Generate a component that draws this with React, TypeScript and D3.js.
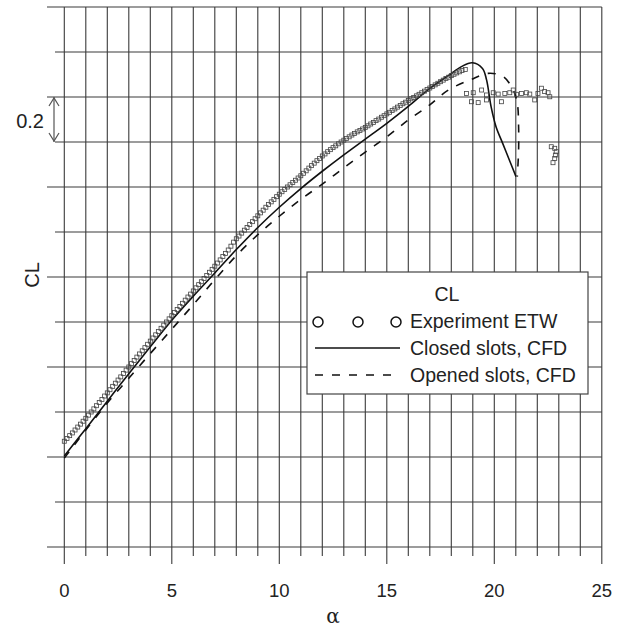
import React from 'react';
import * as d3 from 'd3';

// axis ticks
const alphaTicks = [0, 5, 10, 15, 20, 25];

// Experiment ETW (alpha, CL)
const expAlpha = [
  0, 0.125, 0.25, 0.375, 0.5, 0.625, 0.75, 0.875,
  1, 1.125, 1.25, 1.375, 1.5, 1.625, 1.75, 1.875,
  2, 2.125, 2.25, 2.375, 2.5, 2.625, 2.75, 2.875,
  3, 3.125, 3.25, 3.375, 3.5, 3.625, 3.75, 3.875,
  4, 4.125, 4.25, 4.375, 4.5, 4.625, 4.75, 4.875,
  5, 5.125, 5.25, 5.375, 5.5, 5.625, 5.75, 5.875,
  6, 6.125, 6.25, 6.375, 6.5, 6.625, 6.75, 6.875,
  7, 7.125, 7.25, 7.375, 7.5, 7.625, 7.75, 7.875,
  8, 8.125, 8.25, 8.375, 8.5, 8.625, 8.75, 8.875,
  9, 9.125, 9.25, 9.375, 9.5, 9.625, 9.75, 9.875,
  10, 10.125, 10.25, 10.375, 10.5, 10.625, 10.75, 10.875,
  11, 11.125, 11.25, 11.375, 11.5, 11.625, 11.75, 11.875,
  12, 12.125, 12.25, 12.375, 12.5, 12.625, 12.75, 12.875,
  13, 13.125, 13.25, 13.375, 13.5, 13.625, 13.75, 13.875,
  14, 14.125, 14.25, 14.375, 14.5, 14.625, 14.75, 14.875,
  15, 15.125, 15.25, 15.375, 15.5, 15.625, 15.75, 15.875,
  16, 16.125, 16.25, 16.375, 16.5, 16.625, 16.75, 16.875,
  17, 17.125, 17.25, 17.375, 17.5, 17.625, 17.75, 17.875,
  18, 18.125, 18.25, 18.375, 18.5, 18.65,
  18.71, 19.02, 18.94, 19.25, 19.41, 19.64, 19.64, 19.95, 20.18, 20.33, 20.49, 20.72,
  20.88, 21.03, 21.26, 21.49, 21.65, 21.88, 22.03, 22.19, 22.34, 22.5, 22.58,
  22.65, 22.81, 22.88, 22.84, 22.81, 22.73,
];
const expCL = [
  0.47, 0.482, 0.495, 0.507, 0.52, 0.533, 0.546, 0.559,
  0.572, 0.586, 0.6, 0.614, 0.628, 0.642, 0.656, 0.671,
  0.685, 0.699, 0.714, 0.728, 0.742, 0.756, 0.771, 0.786,
  0.8, 0.815, 0.829, 0.844, 0.858, 0.872, 0.886, 0.901,
  0.915, 0.929, 0.943, 0.958, 0.972, 0.986, 1.0, 1.014,
  1.028, 1.042, 1.056, 1.069, 1.083, 1.097, 1.111, 1.124,
  1.138, 1.152, 1.166, 1.179, 1.193, 1.207, 1.221, 1.234,
  1.248, 1.262, 1.276, 1.291, 1.305, 1.32, 1.337, 1.355,
  1.37, 1.382, 1.395, 1.408, 1.42, 1.433, 1.446, 1.459,
  1.472, 1.485, 1.497, 1.51, 1.522, 1.534, 1.545, 1.557,
  1.568, 1.579, 1.589, 1.6, 1.61, 1.62, 1.63, 1.64,
  1.65, 1.661, 1.672, 1.684, 1.695, 1.706, 1.717, 1.727,
  1.738, 1.747, 1.757, 1.766, 1.775, 1.783, 1.792, 1.8,
  1.808, 1.816, 1.823, 1.831, 1.838, 1.845, 1.851, 1.858,
  1.865, 1.872, 1.88, 1.887, 1.895, 1.902, 1.91, 1.917,
  1.925, 1.932, 1.94, 1.947, 1.955, 1.962, 1.97, 1.977,
  1.985, 1.992, 1.998, 2.005, 2.012, 2.019, 2.026, 2.033,
  2.04, 2.047, 2.054, 2.061, 2.068, 2.075, 2.082, 2.088,
  2.095, 2.101, 2.107, 2.112, 2.118, 2.122,
  2.016, 2.019, 1.979, 1.975, 2.031, 2.009, 1.987, 2.019, 2.013, 1.979, 2.016, 2.019,
  2.031, 2.012, 2.016, 2.019, 2.013, 1.987, 2.016, 2.039, 2.024, 2.019, 2.001,
  1.779, 1.772, 1.757, 1.742, 1.727, 1.708,
];

// Closed slots, CFD
const closedAlpha = [0, 1, 2, 3, 4, 5, 6, 7, 8, 9, 10, 11, 12, 13, 14, 15, 16, 17, 17.86, 18.47, 18.98, 19.45, 19.64, 19.85, 20.08, 20.39, 20.7, 21.01];
const closedCL = [0.404, 0.526, 0.648, 0.77, 0.89, 1.008, 1.115, 1.218, 1.322, 1.42, 1.51, 1.593, 1.67, 1.743, 1.813, 1.883, 1.958, 2.038, 2.095, 2.135, 2.152, 2.127, 2.076, 1.957, 1.868, 1.794, 1.72, 1.646];

// Opened slots, CFD
const openedAlpha = [0, 1, 2, 3, 4, 5, 6, 7, 8, 9, 10, 11, 12, 13, 14, 15, 16, 17, 17.86, 18.88, 19.72, 20.42, 20.88, 21.07, 21.13, 21.13, 21.07];
const openedCL = [0.395, 0.52, 0.64, 0.75, 0.86, 0.968, 1.077, 1.188, 1.295, 1.388, 1.47, 1.545, 1.613, 1.685, 1.755, 1.823, 1.898, 1.965, 2.031, 2.076, 2.105, 2.09, 2.031, 1.972, 1.868, 1.764, 1.646];

const W = 622;
const H = 631;
const FONT = '"Liberation Sans", Arial, sans-serif';
const GRID = '#3a3a3a';

const App = () => {
  const x = d3.scaleLinear().domain([0, 25]).range([64.3, 601.8]);
  const y = d3.scaleLinear().domain([0, 2.4]).range([547, 7]);

  const line = d3.line<[number, number]>()
    .x(d => x(d[0]))
    .y(d => y(d[1]))
    .curve(d3.curveCatmullRom.alpha(0.5));

  const closed = closedAlpha.map((a, i) => [a, closedCL[i]] as [number, number]);
  const opened = openedAlpha.map((a, i) => [a, openedCL[i]] as [number, number]);
  const exp = expAlpha.map((a, i) => [a, expCL[i]] as [number, number]);

  const xGrid = x.ticks(25);
  const yGrid = y.ticks(12);

  // 0.2 scale arrow
  const arrTop = y(2.0);
  const arrBot = y(1.8);
  const arrX = 54;

  return (
    <svg width={W} height={H} style={{ position: 'absolute', left: 0, top: 0, background: '#fff' }}>
      {/* vertical grid */}
      {xGrid.map(v => (
        <line key={'vx' + v} x1={x(v)} x2={x(v)} y1={7} y2={v % 5 === 0 ? 564 : 556}
          stroke={GRID} strokeWidth={1.1} />
      ))}
      {/* horizontal grid */}
      {yGrid.map(v => {
        const major = Math.round(v * 10) % 4 === 0;
        return (
          <line key={'hy' + v} x1={major ? 47 : 55} x2={x(25)} y1={y(v)} y2={y(v)}
            stroke={GRID} strokeWidth={1.1} />
        );
      })}

      {/* x tick labels */}
      {alphaTicks.map(t => (
        <text key={'t' + t} x={x(t)} y={597} textAnchor="middle" fontFamily={FONT} fontSize={18.5} fill="#222">
          {t}
        </text>
      ))}
      <text x={333} y={623} textAnchor="middle" fontFamily='"DejaVu Serif", serif' fontSize={20} fill="#222">α</text>

      {/* y label */}
      <text transform="translate(39,275) rotate(-90)" textAnchor="middle" fontFamily={FONT} fontSize={20} fill="#222">CL</text>

      {/* 0.2 arrow */}
      <g stroke="#555" strokeWidth={1.2} fill="none">
        <line x1={arrX} x2={arrX} y1={arrTop} y2={arrBot} />
        <polyline points={`${arrX - 5},${arrTop + 9} ${arrX},${arrTop + 1} ${arrX + 5},${arrTop + 9}`} />
        <polyline points={`${arrX - 5},${arrBot - 9} ${arrX},${arrBot - 1} ${arrX + 5},${arrBot - 9}`} />
      </g>
      <text x={44} y={128} textAnchor="end" fontFamily={FONT} fontSize={20} fill="#222">0.2</text>

      {/* CFD curves */}
      <path d={line(opened) || ''} fill="none" stroke="#111" strokeWidth={1.6} strokeDasharray="8,9" />
      <path d={line(closed) || ''} fill="none" stroke="#111" strokeWidth={1.6} />

      {/* experiment markers */}
      {exp.map((d, i) => (
        <rect key={'e' + i} x={x(d[0]) - 2} y={y(d[1]) - 2} width={4} height={4}
          fill="none" stroke="#444" strokeWidth={0.8} />
      ))}

      {/* legend */}
      <g fontFamily={FONT} fill="#222">
        <rect x={307} y={272} width={281} height={122} fill="#fff" stroke="#444" strokeWidth={1.2} />
        <text x={447} y={301} textAnchor="middle" fontSize={19.5}>CL</text>
        {[318, 358, 396].map(cx => (
          <circle key={cx} cx={cx} cy={322} r={5} fill="none" stroke="#111" strokeWidth={1.5} />
        ))}
        <text x={410} y={328} fontSize={19.5}>Experiment ETW</text>
        <line x1={315} x2={400} y1={348} y2={348} stroke="#111" strokeWidth={1.6} />
        <text x={410} y={355} fontSize={19.5}>Closed slots, CFD</text>
        <line x1={315} x2={400} y1={375} y2={375} stroke="#111" strokeWidth={1.6} strokeDasharray="8,9" />
        <text x={410} y={382} fontSize={19.5}>Opened slots, CFD</text>
      </g>
    </svg>
  );
};

export default App;
